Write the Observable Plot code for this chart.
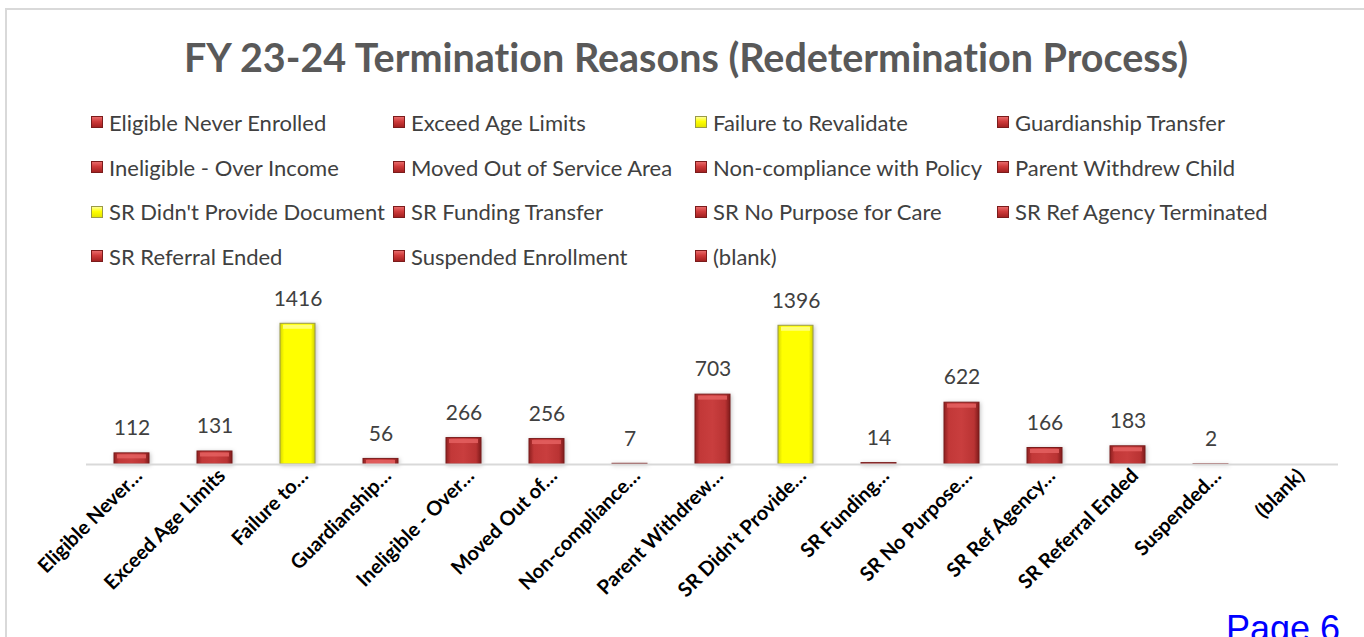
<!DOCTYPE html>
<html><head><meta charset="utf-8">
<script src="https://cdn.jsdelivr.net/npm/d3@7"></script>
<script src="https://cdn.jsdelivr.net/npm/@observablehq/plot@0.6"></script>
<style>
body{margin:0;background:#fff;}
#wrap{position:relative;width:1364px;height:637px;overflow:hidden;font-family:Lato,"Open Sans",sans-serif;background:#fff;font-variant-ligatures:none;}
#frame{position:absolute;left:5px;top:8px;right:-10px;bottom:-10px;border-left:2px solid #d9d9d9;border-top:2px solid #d9d9d9;}
#title{position:absolute;left:0;width:1372px;top:34px;text-align:center;font-weight:700;font-size:39.5px;color:#595959;line-height:46px;white-space:nowrap;}
#legend{position:absolute;left:91px;top:100px;display:grid;grid-template-columns:repeat(4,302px);grid-auto-rows:44.7px;}
.item{display:flex;align-items:center;font-size:22px;color:#404040;white-space:nowrap;}
.sw{width:12px;height:12px;margin-right:6px;box-sizing:border-box;flex:none;}
.sw.red{background:linear-gradient(to bottom,#e86a6a 0%,#cf3b3b 45%,#a32121 100%);border:1px solid #7b1c1c;}
.sw.yel{background:linear-gradient(to bottom,#ffff9a 0%,#ffff00 45%,#e4e400 100%);border:1px solid #9a9a48;}
#chart{position:absolute;left:0;top:270px;}
#chart svg{font-variant-ligatures:none;}
#chart g[aria-label="bar"] rect{filter:drop-shadow(1.5px 1.5px 2px rgba(0,0,0,0.25));}
#page{position:absolute;left:1226px;top:611px;font-family:"Liberation Sans",Arial,sans-serif;font-size:36px;line-height:1;color:#0000ff;}
#defs{position:absolute;width:0;height:0;}
</style></head>
<body>
<div id="wrap">
  <svg id="defs" width="0" height="0">
    <defs>
      <linearGradient id="gradR" x1="0" x2="1" y1="0" y2="0">
        <stop offset="0" stop-color="#8e1f1f"/>
        <stop offset="0.14" stop-color="#c23838"/>
        <stop offset="0.5" stop-color="#c93e3e"/>
        <stop offset="0.86" stop-color="#b93333"/>
        <stop offset="1" stop-color="#7e1a1a"/>
      </linearGradient>
      <linearGradient id="gradY" x1="0" x2="1" y1="0" y2="0">
        <stop offset="0" stop-color="#d6d600"/>
        <stop offset="0.12" stop-color="#ffff00"/>
        <stop offset="0.88" stop-color="#ffff00"/>
        <stop offset="1" stop-color="#d0d000"/>
      </linearGradient>
    </defs>
  </svg>
  <div id="frame"></div>
  <div id="title">FY 23-24 Termination Reasons (Redetermination Process)</div>
  <div id="legend"></div>
  <div id="chart"></div>
  <div id="page">Page 6</div>
</div>
<script>
const categories = ["Eligible Never Enrolled","Exceed Age Limits","Failure to Revalidate","Guardianship Transfer","Ineligible - Over Income","Moved Out of Service Area","Non-compliance with Policy","Parent Withdrew Child","SR Didn't Provide Document","SR Funding Transfer","SR No Purpose for Care","SR Ref Agency Terminated","SR Referral Ended","Suspended Enrollment","(blank)"];
const counts = [112,131,1416,56,266,256,7,703,1396,14,622,166,183,2,null];
const tickLabels = ["Eligible Never…","Exceed Age Limits","Failure to…","Guardianship…","Ineligible - Over…","Moved Out of…","Non-compliance…","Parent Withdrew…","SR Didn't Provide…","SR Funding…","SR No Purpose…","SR Ref Agency…","SR Referral Ended","Suspended…","(blank)"];
const highlighted = ["Failure to Revalidate","SR Didn't Provide Document"];

const data = categories.map((c,i)=>({category:c,count:counts[i],label:tickLabels[i],hi:highlighted.includes(c)}));
const valued = data.filter(d=>d.count!=null);

// legend
const legend = document.getElementById("legend");
for (const d of data) {
  const it = document.createElement("div"); it.className="item";
  const sw = document.createElement("span"); sw.className = "sw " + (d.hi ? "yel" : "red");
  it.appendChild(sw); it.appendChild(document.createTextNode(d.category));
  legend.appendChild(it);
}

const plot = Plot.plot({
  width:1364, height:367,
  marginLeft:86, marginRight:26, marginTop:35, marginBottom:173,
  x:{domain:categories, paddingInner:0.58, paddingOuter:0.29, axis:null},
  y:{domain:[0,1600], axis:null},
  color:{type:"identity"},
  style:{fontFamily:"Lato, 'Open Sans', sans-serif", background:"transparent", overflow:"visible"},
  marks:[
    Plot.barY(valued,{x:"category",y:"count",fill:d=>d.hi?"url(#gradY)":"url(#gradR)",stroke:d=>d.hi?"#9a9a48":"#7b1c1c",strokeWidth:1}),
    Plot.tickY(valued.filter(d=>d.count>20),{x:"category",y:"count",stroke:d=>d.hi?"#ffff8a":"#e46060",strokeWidth:4,dy:3,insetLeft:3,insetRight:3,strokeOpacity:0.85}),
    Plot.ruleY([0],{stroke:"#d9d9d9",strokeWidth:2}),
    Plot.text(valued,{x:"category",y:"count",text:d=>String(d.count),dy:-25,fontSize:21,fill:"#404040"}),
    Plot.text(data,{x:"category",y:0,text:"label",rotate:-45,textAnchor:"end",dx:7,dy:8,fontSize:20,fontWeight:"bold",fill:"#000"})
  ]
});
document.getElementById("chart").appendChild(plot);
</script>
</body></html>
